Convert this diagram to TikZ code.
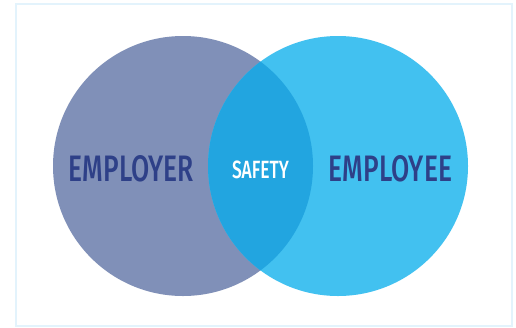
\documentclass[tikz,border=0pt]{standalone}
\usepackage{fontspec}
\setmainfont{Fira Sans}
\newfontfamily\medfont{Fira Sans Medium}
\usepackage{graphicx}
\definecolor{employerc}{RGB}{128,144,184}
\definecolor{employeec}{RGB}{66,193,240}
\definecolor{safetyc}{RGB}{34,165,224}
\definecolor{labelc}{RGB}{46,64,136}
\definecolor{framec}{RGB}{227,243,252}
\tikzset{
  biglabel/.style={inner sep=0pt, text=labelc, font=\medfont},
  smalllabel/.style={inner sep=0pt, text=white, font=\medfont},
}
\begin{document}
\begin{tikzpicture}[x=1pt,y=-1pt]
\useasboundingbox (0,0) rectangle (516,327);
\fill[white] (0,0) rectangle (516,327);
\draw[framec, line width=2pt] (15.5,4) rectangle (511.5,325.5);
\fill[employerc] (183,166) circle (130);
\fill[employeec] (338,166) circle (130);
\begin{scope}
  \clip (183,166) circle (130);
  \fill[safetyc] (338,166) circle (130);
\end{scope}
\node[biglabel] (employer) at (131.5,169) {\resizebox{125pt}{26pt}{EMPLOYER}};
\node[smalllabel] (safety) at (260.5,169.5) {\resizebox{57pt}{17.6pt}{SAFETY}};
\node[biglabel] (employee) at (390.5,169) {\resizebox{123pt}{26pt}{EMPLOYEE}};
\end{tikzpicture}
\end{document}
